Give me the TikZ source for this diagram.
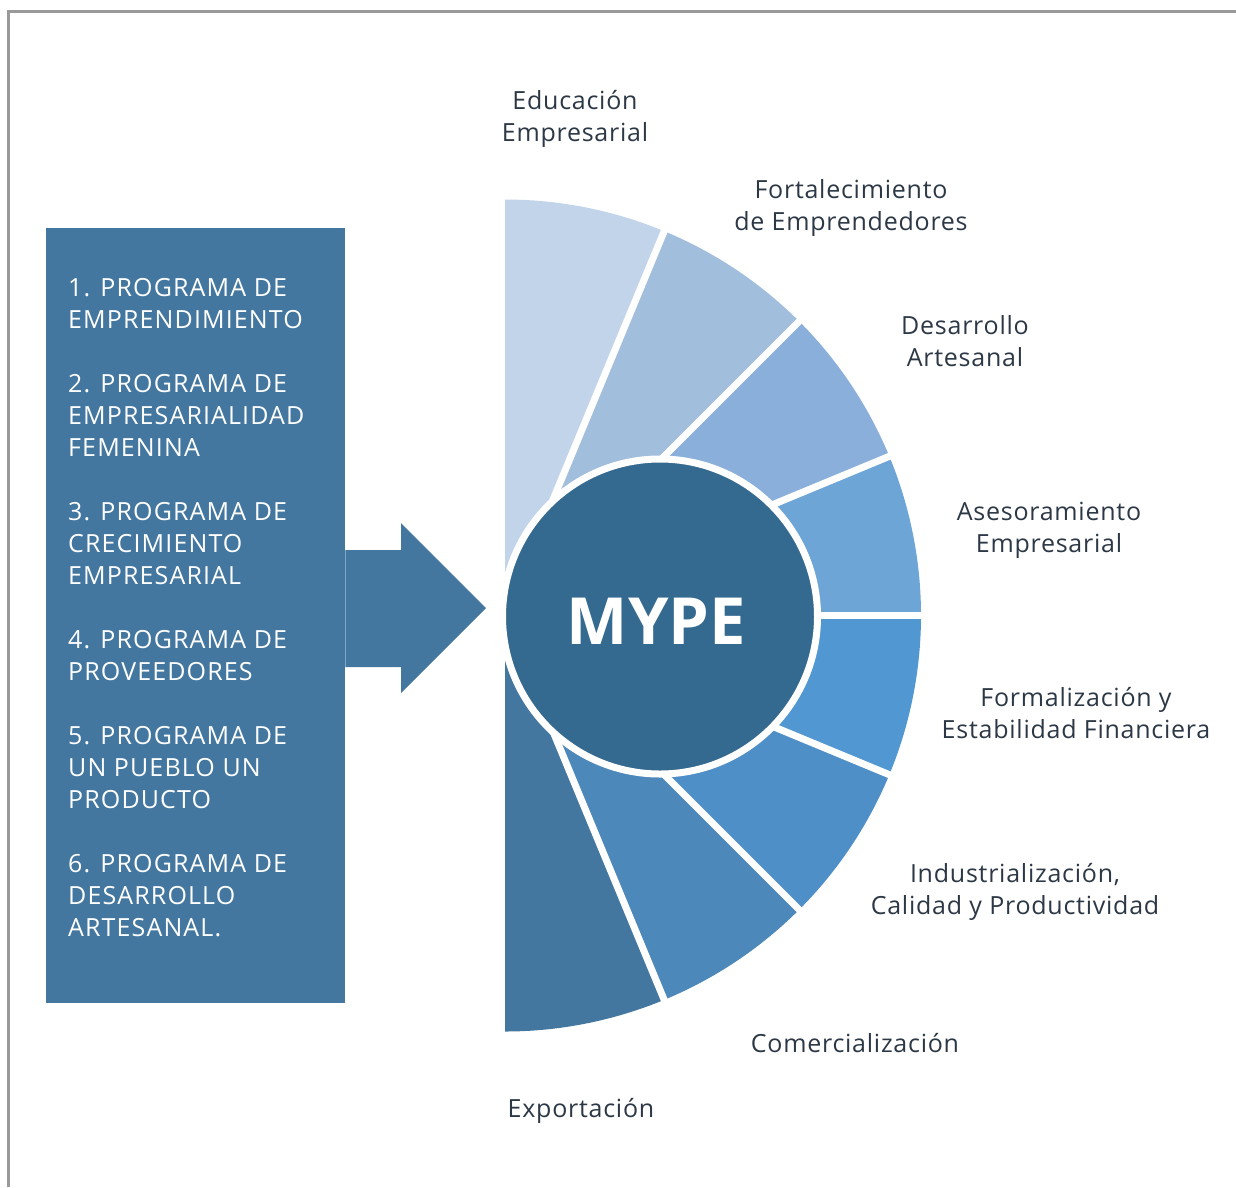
\documentclass[tikz,border=0pt]{standalone}
\usepackage{fontspec}
\setmainfont{Open Sans}[LetterSpace=3]
\newfontfamily\capsfont{Open Sans}[LetterSpace=4.5]
\newfontfamily\corefont{Open Sans}
\definecolor{boxblue}{HTML}{44779F}
\definecolor{coreblue}{HTML}{356A90}
\definecolor{sa}{HTML}{C2D4E9}
\definecolor{sb}{HTML}{A2BEDD}
\definecolor{sc}{HTML}{8AAFDA}
\definecolor{sd}{HTML}{6CA5D6}
\definecolor{se}{HTML}{5198D2}
\definecolor{sf}{HTML}{4F8FC8}
\definecolor{sg}{HTML}{4D88BA}
\definecolor{sh}{HTML}{44779F}
\definecolor{txtc}{HTML}{2C3845}
\definecolor{frame}{HTML}{999999}
\newcommand\twoline[2]{\vtop{\baselineskip=32pt\halign{\hfil##\hfil\cr#1\cr#2\cr}}}
\newcommand\boxlines{\vtop{\baselineskip=32pt\halign{##\hfil\cr
1. PROGRAMA DE\cr EMPRENDIMIENTO\cr\cr
2. PROGRAMA DE\cr EMPRESARIALIDAD\cr FEMENINA\cr\cr
3. PROGRAMA DE\cr CRECIMIENTO\cr EMPRESARIAL\cr\cr
4. PROGRAMA DE\cr PROVEEDORES\cr\cr
5. PROGRAMA DE\cr UN PUEBLO UN\cr PRODUCTO\cr\cr
6. PROGRAMA DE\cr DESARROLLO\cr ARTESANAL.\cr}}}
\begin{document}
\begin{tikzpicture}[x=1pt,y=-1pt,
  lbl/.style={inner sep=0pt, anchor=base, text=txtc, font=\fontsize{25}{32}\selectfont},
  sep/.style={draw=white, line width=7pt}]
\useasboundingbox (0,0) rectangle (1236,1187);
% frame
\draw[frame, line width=3pt] (8.5,1187) -- (8.5,11.5) -- (1236,11.5);
% left box and arrow
\node[fill=boxblue, inner sep=0pt, minimum width=299pt, minimum height=775pt, anchor=north west] (box) at (46,228) {};
\fill[boxblue] (box.east |- 0,550) -- (401,550) -- (401,523) -- (486,608) -- (401,693) -- (401,667) -- (box.east |- 0,667) -- cycle;
\node[inner sep=0pt, anchor=base west, text=white, font=\capsfont\fontsize{25}{32}\selectfont] (boxtxt) at (68,296) {\boxlines};
% sectors
\coordinate (C) at (505,615.5);
\foreach \i/\col in {0/sa,1/sb,2/sc,3/sd,4/se,5/sf,6/sg,7/sh}{
  \pgfmathsetmacro{\aa}{22.5*\i-90}
  \pgfmathsetmacro{\ab}{22.5*(\i+1)-90}
  \fill[\col] (C) -- ++(\aa:416) arc[start angle=\aa, end angle=\ab, radius=416] -- cycle;
}
\foreach \i in {1,...,7}{
  \draw[sep] (C) -- ++(22.5*\i-90:425);
}
% core circle
\node[circle, fill=coreblue, draw=white, line width=7pt, minimum size=315pt, inner sep=0pt] (core) at (660,616.5) {};
\node[inner sep=0pt, text=white, font=\corefont\fontsize{65}{70}\selectfont\bfseries] (mype) at ([xshift=-3.5pt,yshift=-4.5pt]core.center) {MYPE};
% labels
\node[lbl] (l1) at (575,109.5) {\twoline{Educación}{Empresarial}};
\node[lbl] (l2) at (851,198.5) {\twoline{Fortalecimiento}{de Emprendedores}};
\node[lbl] (l3) at (965,334.5) {\twoline{Desarrollo}{Artesanal}};
\node[lbl] (l4) at (1049,520.5) {\twoline{Asesoramiento}{Empresarial}};
\node[lbl] (l5) at (1076,706) {\twoline{Formalización y}{Estabilidad Financiera}};
\node[lbl] (l6) at (1015,882.5) {\twoline{Industrialización,}{Calidad y Productividad}};
\node[lbl] (l7) at (855,1052.5) {Comercialización};
\node[lbl] (l8) at (581,1117.5) {Exportación};
\end{tikzpicture}
\end{document}
